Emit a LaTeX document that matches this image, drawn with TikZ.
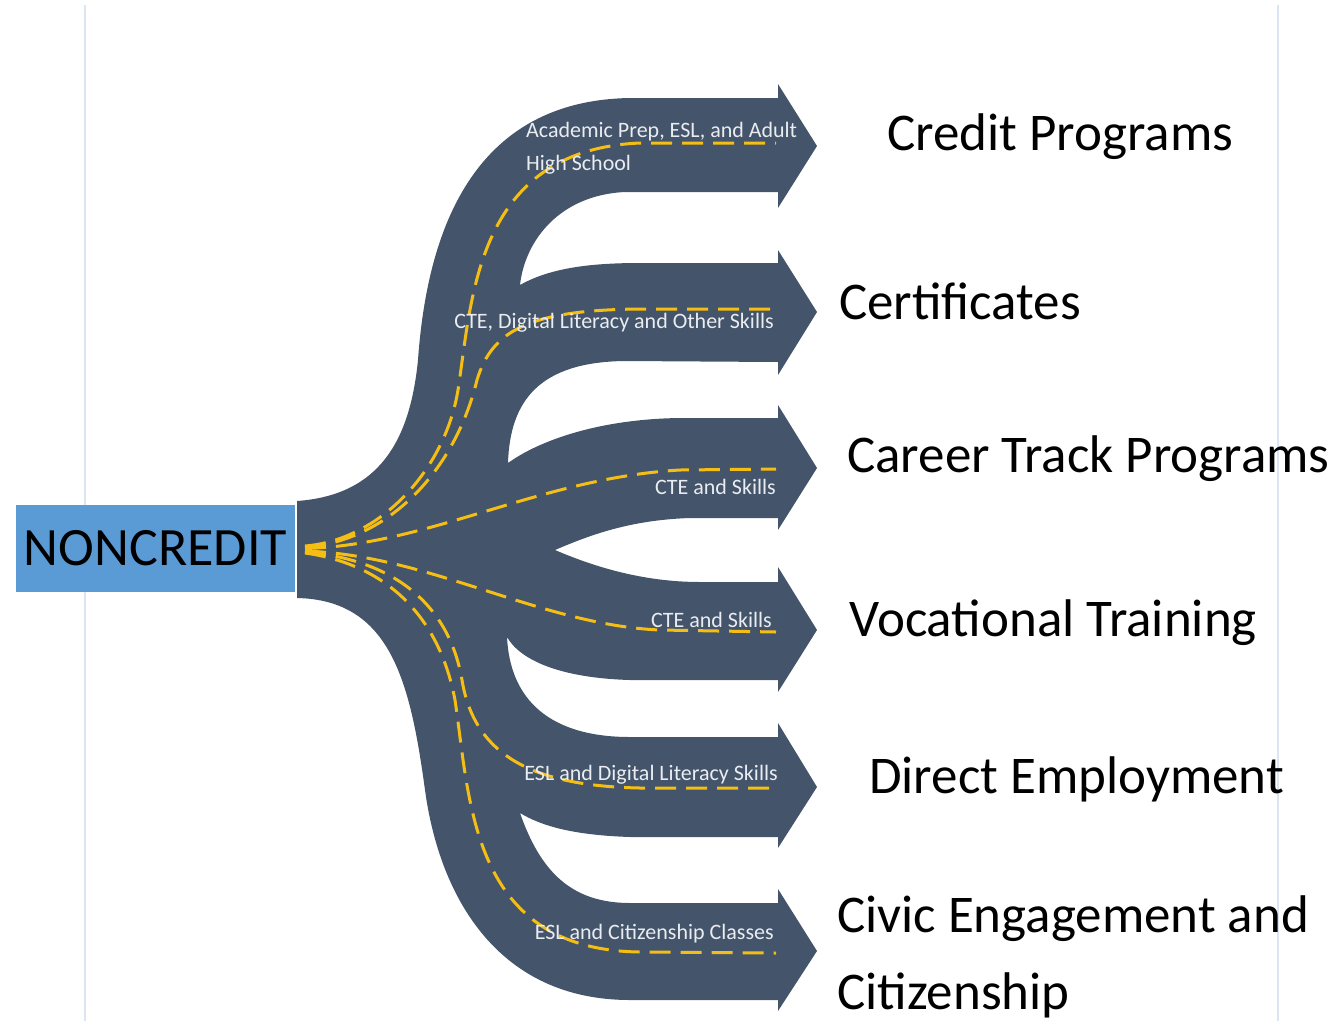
\documentclass[tikz,border=0pt]{standalone}
\usepackage{fontspec}
\setmainfont{Carlito}
\definecolor{roadc}{HTML}{44546A}
\definecolor{lanec}{HTML}{F5BE14}
\definecolor{boxc}{HTML}{5B9BD5}
\definecolor{guidec}{HTML}{DCE6F2}
\definecolor{labelc}{HTML}{E9ECF0}
\begin{document}
\begin{tikzpicture}[x=1pt,y=-1pt,
  road/.style={fill=roadc},
  lane/.style={draw=lanec,line width=3pt,dash pattern=on 21pt off 10pt},
  guide/.style={draw=guidec,line width=1.5pt},
  biglabel/.style={anchor=west,font=\fontsize{53}{77}\selectfont,text=black,inner sep=0pt,align=left},
  small/.style={font=\fontsize{22}{33}\selectfont,text=labelc,inner sep=0pt},
  srcbox/.style={fill=boxc,minimum width=279pt,minimum height=87pt,inner sep=0pt,font=\fontsize{54}{62}\selectfont,text=black}]
\useasboundingbox (0,0) rectangle (1342,1021);
\coordinate (g1a) at (85,5); \coordinate (g1b) at (85,1021);
\coordinate (g2a) at (1278,5); \coordinate (g2b) at (1278,1021);
\draw[guide] (g1a) -- (g1b);
\draw[guide] (g2a) -- (g2b);
% road shape
\path[road] (297,501) .. controls (380,495) and (410,440) .. (418,360)
  .. controls (430,190) and (500,100) .. (630,98) -- (778,98) -- (778,84) -- (817,146) -- (778,208) -- (778,192)
  -- (625,192) .. controls (560,195) and (525,240) .. (520,285)
  .. controls (550,268) and (590,263) .. (640,263) -- (778,263) -- (778,250) -- (817,312) -- (778,375) -- (778,362)
  -- (625,361) .. controls (540,362) and (510,400) .. (508,463)
  .. controls (540,440) and (600,419) .. (680,418) -- (778,418) -- (778,405) -- (817,468) -- (778,530) -- (778,518)
  -- (690,518) .. controls (630,520) and (590,535) .. (555,550)
  .. controls (590,565) and (640,582) .. (700,582) -- (778,582) -- (778,567) -- (817,630) -- (778,692) -- (778,680)
  -- (630,680) .. controls (560,678) and (520,660) .. (507,637)
  .. controls (510,700) and (550,737) .. (630,737) -- (778,737) -- (778,723) -- (817,787) -- (778,848) -- (778,837)
  -- (630,837) .. controls (570,835) and (540,825) .. (520,813)
  .. controls (540,870) and (570,903) .. (630,903) -- (778,903) -- (778,889) -- (817,951) -- (778,1011) -- (778,1000)
  -- (630,1000) .. controls (500,1000) and (440,900) .. (425,790)
  .. controls (410,680) and (390,600) .. (297,598) -- cycle;
% source box
\node[srcbox] (nc) at (155.5,548.5) {NONCREDIT};
% lanes
\coordinate (s1) at (305,546);
\coordinate (s2) at (305,547.5);
\coordinate (s3) at (305,548.5);
\coordinate (s4) at (305,551);
\coordinate (s5) at (305,552);
\coordinate (s6) at (305,553);
\coordinate (e1) at (776,143);
\coordinate (e2) at (776,309);
\coordinate (e3) at (776,469);
\coordinate (e4) at (776,632);
\coordinate (e5) at (776,788);
\coordinate (e6) at (776,953);
\draw[lane] (s1) .. controls (380,540) and (445,470) .. (458,390)
  .. controls (472,300) and (475,150) .. (640,143) -- (e1);
\draw[lane] (s2) .. controls (390,540) and (455,470) .. (477,380)
  .. controls (492,330) and (530,310) .. (640,309) -- (e2);
\draw[lane] (s3) .. controls (430,545) and (540,478) .. (680,470) -- (e3);
\draw[lane] (s4) .. controls (430,555) and (540,625) .. (660,630) -- (e4);
\draw[lane] (s5) .. controls (400,560) and (450,610) .. (462,680)
  .. controls (475,760) and (540,786) .. (640,788) -- (e5);
\draw[lane] (s6) .. controls (390,565) and (440,620) .. (455,700)
  .. controls (470,800) and (470,950) .. (640,952) -- (e6);
% lane labels
\node[small,anchor=west,align=left] (l1) at (526,148) {Academic Prep, ESL, and Adult\\High School};
\node[small,anchor=east] (l2) at (774,323) {CTE, Digital Literacy and Other Skills};
\node[small,anchor=east] (l3) at (776,487) {CTE and Skills};
\node[small,anchor=east] (l4) at (772,620) {CTE and Skills};
\node[small,anchor=east] (l5) at (778,775) {ESL and Digital Literacy Skills};
\node[small,anchor=east] (l6) at (774,934) {ESL and Citizenship Classes};
% outcome labels
\node[biglabel] (o1) at (887,137) {Credit Programs};
\node[biglabel] (o2) at (839,301) {Certificates};
\node[biglabel] (o3) at (847,459) {Career Track Programs};
\node[biglabel] (o4) at (849,623) {Vocational Training};
\node[biglabel] (o5) at (869,779) {Direct Employment};
\node[biglabel] (o6) at (837,957) {Civic Engagement and\\Citizenship};
\end{tikzpicture}
\end{document}
